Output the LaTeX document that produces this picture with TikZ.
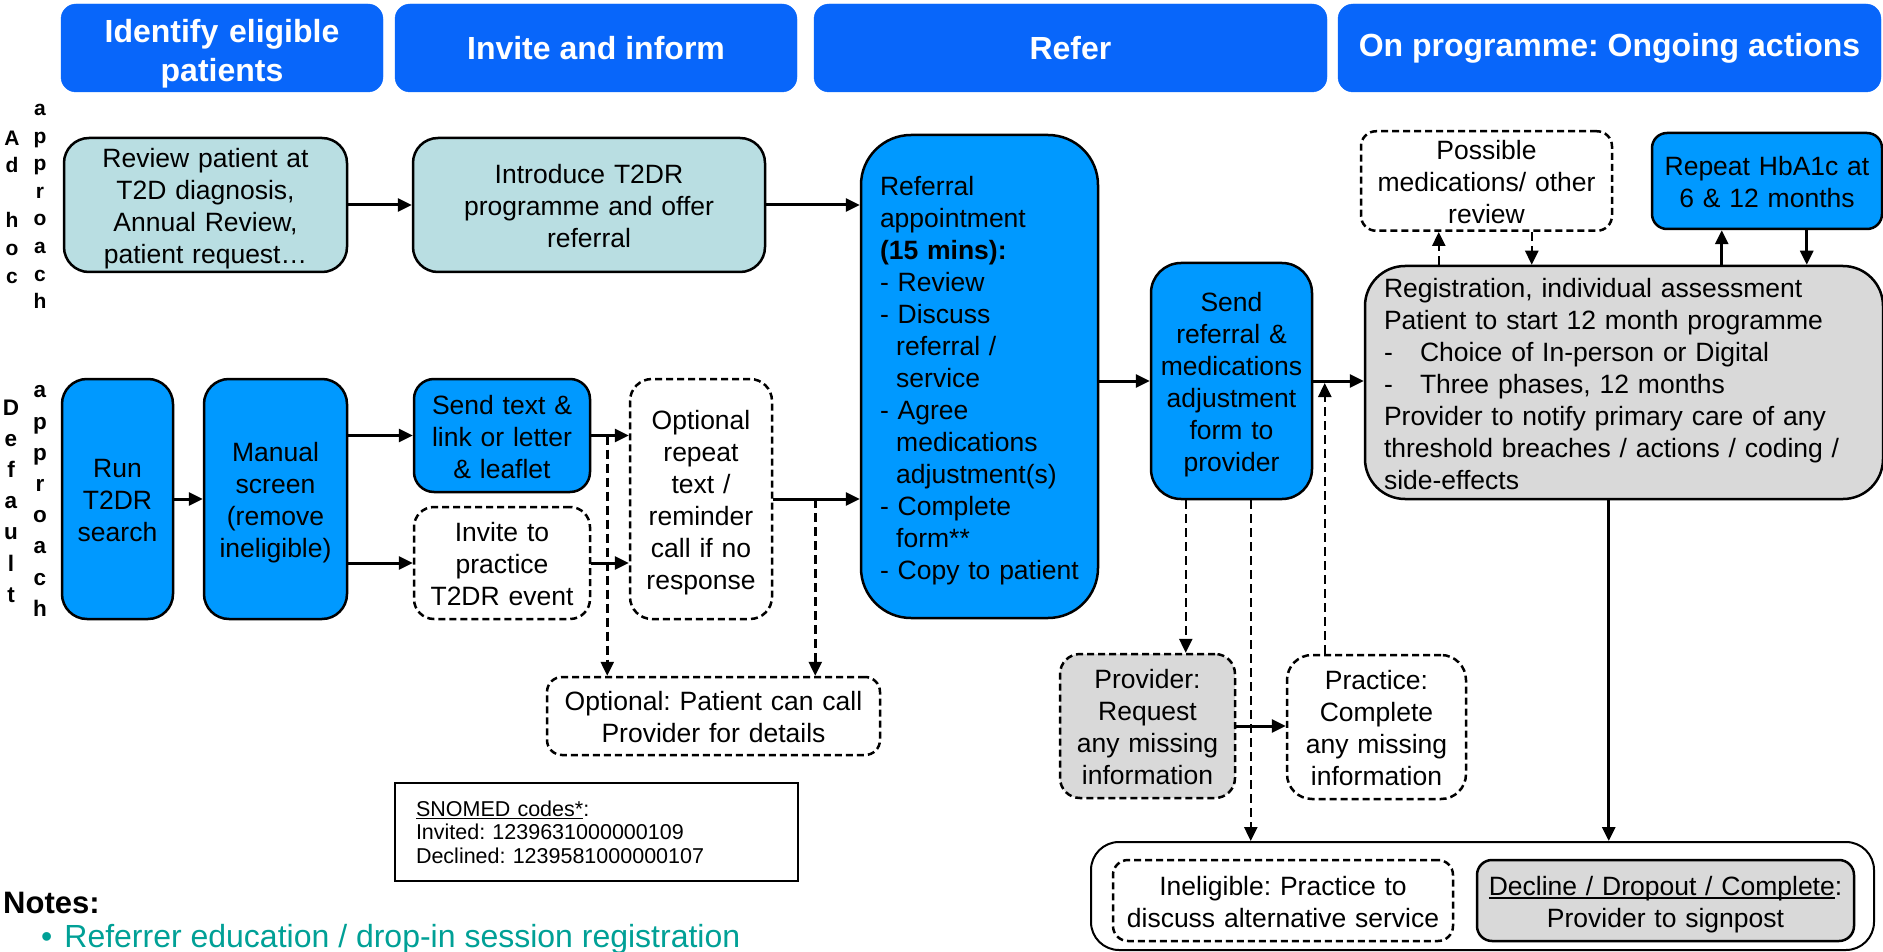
\documentclass[tikz,border=0pt]{standalone}
\usepackage{fontspec}
\setmainfont{Liberation Sans}
\usetikzlibrary{arrows.meta,calc}
\frenchspacing
\definecolor{hdrblue}{RGB}{8,102,250}
\definecolor{boxblue}{RGB}{0,153,255}
\definecolor{lteal}{RGB}{185,222,226}
\definecolor{lgray}{RGB}{217,217,217}
\definecolor{noteteal}{RGB}{0,160,150}
\newcommand\bodyfs{\fontsize{26.5}{32}\selectfont}
\newcommand\hdrfs{\fontsize{32}{39}\selectfont\bfseries}
\newcommand\snofs{\fontsize{21.5}{23.5}\selectfont}
\newcommand\indt{\hspace*{16.2pt}}
\newcommand\dsh{\makebox[36pt][l]{-}}
\newlength\myulw
\newcommand\myul[3]{\settowidth\myulw{#1}\rlap{\rule[#2]{\myulw}{#3}}#1}
\tikzset{
  base/.style={draw=black, line width=2.5pt, inner sep=0pt, align=center, font=\bodyfs,
    execute at begin node={\rule{0pt}{28.5pt}}, execute at end node={\rule[-7pt]{0pt}{7pt}}},
  bluebx/.style={base, fill=boxblue},
  tealbx/.style={base, fill=lteal},
  graybx/.style={base, fill=lgray},
  dashbx/.style={base, fill=white, dash pattern=on 7pt off 4pt},
  dashgraybx/.style={base, fill=lgray, dash pattern=on 7pt off 4pt},
  hdr/.style={fill=hdrblue, draw=hdrblue, rounded corners=15pt, text=white, font=\hdrfs, align=center, inner sep=0pt},
  side/.style={inner sep=0pt, align=center},
  arr/.style={line width=3pt, -{Triangle[length=14pt,width=13pt]}},
  darr/.style={line width=2.5pt, dash pattern=on 9pt off 5pt, -{Triangle[length=14pt,width=13pt]}},
}
\begin{document}
\begin{tikzpicture}[x=1pt,y=-1pt]
\useasboundingbox (0,0) rectangle (1883,952);
\clip (0,0) rectangle (1883,952);

% headers
\node[hdr, minimum width=322pt, minimum height=88pt, text width=310pt] (h1) at (222,48) {\rule{0pt}{34pt}Identify eligible\\patients};
\node[hdr, minimum width=402pt, minimum height=88pt] (h2) at (596,48) {Invite and inform};
\node[hdr, minimum width=513pt, minimum height=88pt] (h3) at (1070.5,48) {Refer};
\node[hdr, minimum width=543pt, minimum height=88pt] (h4) at (1609.5,48) {On programme: Ongoing actions};

% side labels
\node[side, font=\fontsize{21}{27.6}\selectfont\bfseries] (adhoc) at (12,207) {A\\d\\\strut\\h\\o\\c};
\node[side, font=\fontsize{21}{27.6}\selectfont\bfseries] (appr1) at (40,206.5) {a\\p\\p\\r\\o\\a\\c\\h};
\node[side, font=\fontsize{22.5}{31.2}\selectfont\bfseries] (deflt) at (11,501) {D\\e\\f\\a\\u\\l\\t};
\node[side, font=\fontsize{22.5}{31.2}\selectfont\bfseries] (appr2) at (40,501) {a\\p\\p\\r\\o\\a\\c\\h};

% ad hoc row
\node[tealbx, rounded corners=25pt, minimum width=283pt, minimum height=134pt, text width=275pt] (review) at (205.5,205) {Review patient at\\T2D diagnosis,\\Annual Review,\\patient request\dots};
\node[tealbx, rounded corners=25pt, minimum width=352pt, minimum height=134pt, text width=344pt] (intro) at (589,205) {Introduce T2DR\\programme and offer\\referral};

% referral
\node[bluebx, rounded corners=50pt, minimum width=237pt, minimum height=483pt, text width=199pt, align=left] (referral) at (979.5,376.5) {Referral\\appointment\\\textbf{(15 mins):}\\- Review\\- Discuss\\\indt referral /\\\indt service\\- Agree\\\indt medications\\\indt adjustment(s)\\- Complete\\\indt form**\\- Copy to patient};

% default row
\node[bluebx, rounded corners=25pt, minimum width=111pt, minimum height=240pt, text width=105pt] (run) at (117.5,499) {Run\\T2DR\\search};
\node[bluebx, rounded corners=25pt, minimum width=143pt, minimum height=240pt, text width=137pt] (manual) at (275.5,499) {Manual\\screen\\(remove\\ineligible)};
\node[bluebx, rounded corners=20pt, minimum width=176pt, minimum height=113pt, text width=170pt] (send) at (502,435.5) {Send text \&\\link or letter\\\& leaflet};
\node[dashbx, rounded corners=20pt, minimum width=176pt, minimum height=112pt, text width=170pt] (invite) at (502,563) {Invite to\\practice\\T2DR event};
\node[dashbx, rounded corners=22pt, minimum width=142pt, minimum height=240pt, text width=136pt] (optrep) at (701,499) {Optional\\repeat\\text /\\reminder\\call if no\\response};
\node[dashbx, rounded corners=15pt, minimum width=333pt, minimum height=78pt, text width=325pt] (patcall) at (713.5,716) {Optional: Patient can call\\Provider for details};

% snomed
\node[draw=black, line width=2pt, fill=white, minimum width=403pt, minimum height=98pt, text width=361pt, align=left, font=\snofs, inner sep=0pt] (snomed) at (596.5,832) {\myul{SNOMED codes*}{-2.8pt}{1.2pt}:\\Invited: 1239631000000109\\Declined: 1239581000000107};

% right part
\node[bluebx, rounded corners=30pt, minimum width=161pt, minimum height=236pt, text width=155pt] (sendref) at (1231.5,381) {Send\\referral \&\\medications\\adjustment\\form to\\provider};
\node[graybx, rounded corners=40pt, minimum width=518pt, minimum height=233pt, text width=480pt, align=left] (reg) at (1624,382.5) {Registration, individual assessment\\Patient to start 12 month programme\\\dsh Choice of In-person or Digital\\\dsh Three phases, 12 months\\Provider to notify primary care of any\\threshold breaches / actions / coding /\\side-effects};
\node[dashbx, rounded corners=15pt, minimum width=251pt, minimum height=96pt, text width=243pt] (possible) at (1486.5,181) {Possible\\medications/ other\\review};
\node[bluebx, rounded corners=15pt, minimum width=230pt, minimum height=96pt, text width=224pt] (repeat) at (1767,181) {Repeat HbA1c at\\6 \& 12 months};
\node[dashgraybx, rounded corners=20pt, minimum width=175pt, minimum height=144pt, text width=169pt] (provider) at (1147.5,726) {Provider:\\Request\\any missing\\information};
\node[dashbx, rounded corners=25pt, minimum width=179pt, minimum height=144pt, text width=173pt] (practice) at (1376.5,727) {Practice:\\Complete\\any missing\\information};

% bottom group
\node[draw=black, line width=2pt, fill=white, rounded corners=28pt, minimum width=783pt, minimum height=108pt] (bottom) at (1482.5,896) {};
\node[dashbx, rounded corners=15pt, minimum width=340pt, minimum height=81pt, text width=334pt] (inelig) at (1283,900.5) {Ineligible: Practice to\\discuss alternative service};
\node[graybx, rounded corners=15pt, minimum width=377pt, minimum height=81pt, text width=371pt] (decline) at (1665.5,900.5) {\myul{Decline / Dropout / Complete}{-3.5pt}{1.5pt}:\\Provider to signpost};

% notes
\node[anchor=west, inner sep=0pt, font=\fontsize{31}{36}\selectfont\bfseries] (notes) at (3,903) {Notes:};
\node[anchor=west, inner sep=0pt, text=noteteal, font=\fontsize{32}{36}\selectfont] (note1) at (41,939) {\textbullet\hspace{12pt}Referrer education / drop-in session registration};

% connectors
\draw[arr] (review) -- (intro);
\draw[arr] (intro.east) -- (intro.east -| referral.west);
\draw[arr] (run) -- (manual);
\draw[arr] (manual.east |- send.west) -- (send.west);
\draw[arr] (manual.east |- invite.west) -- (invite.west);
\draw[arr] (send.east) -- (send.east -| optrep.west);
\draw[arr] (invite.east) -- (invite.east -| optrep.west);
\draw[arr] (optrep.east) -- (optrep.east -| referral.west);
\draw[darr] ($(send.east)+(16,0)$) coordinate (d1) -- (d1 |- patcall.north);
\draw[darr] ($(optrep.east)+(42,0)$) coordinate (d2) -- (d2 |- patcall.north);
\draw[arr] (referral.east |- sendref.west) -- (sendref.west);
\draw[arr] (sendref.east) -- (sendref.east -| reg.west);
\draw[darr] ($(practice.north west)+(39,0)$) coordinate (d3) -- ($(d3 |- sendref.east)+(0,2)$);
\draw[darr] ($(sendref.south west)+(36,0)$) coordinate (d4) -- (d4 |- provider.north);
\draw[darr] ($(sendref.south west)+(101,0)$) coordinate (d5) -- (d5 |- bottom.north);
\draw[arr] (provider.east) -- (provider.east -| practice.west);
\draw[arr] ($(reg.south west)+(245,0)$) coordinate (d6) -- (d6 |- bottom.north);
\draw[darr] ($(reg.north west)+(75,0)$) coordinate (d7) -- (d7 |- possible.south);
\draw[darr] ($(possible.south west)+(172,0)$) coordinate (d8) -- (d8 |- reg.north);
\draw[arr] ($(reg.north west)+(358,0)$) coordinate (d9) -- (d9 |- repeat.south);
\draw[arr] ($(repeat.south west)+(156,0)$) coordinate (d10) -- (d10 |- reg.north);
\end{tikzpicture}
\end{document}
